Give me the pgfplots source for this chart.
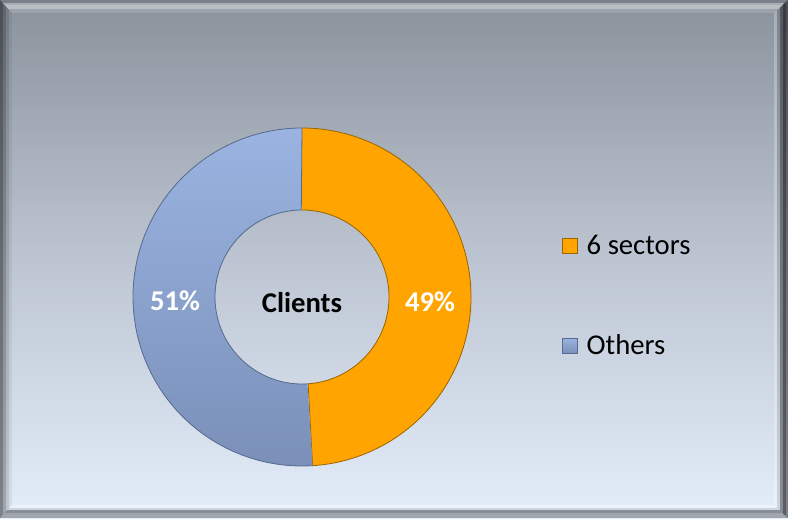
\documentclass[border=0pt]{standalone}
\usepackage{pgfplots}
\pgfplotsset{compat=1.18}
\usepackage{fontspec}
\setmainfont{Carlito}
\definecolor{bgtop}{HTML}{8A929C}
\definecolor{bgmid}{HTML}{BCC5D1}
\definecolor{bgbot}{HTML}{E4EEFA}
\definecolor{orangeF}{HTML}{FFA400}
\definecolor{orangeE}{HTML}{9A6400}
\definecolor{blueT}{HTML}{9AB3E0}
\definecolor{blueB}{HTML}{7A90B9}
\definecolor{blueE}{HTML}{56698E}
\pgfdeclareverticalshading{bgshade}{100bp}{color(0bp)=(bgbot); color(25bp)=(bgbot); color(50bp)=(bgmid); color(75bp)=(bgtop); color(100bp)=(bgtop)}
% data (percent)
\def\vSix{49}
\def\vOth{51}
\pgfmathsetmacro\aA{90}
\pgfmathsetmacro\aB{90-3.6*\vSix}
\pgfmathsetmacro\aC{\aB-3.6*\vOth}
\newcommand\ring[3]{%
\addplot[#3, domain=0:2, samples=801, variable=\t]
 ({302+ifthenelse(\t<=1,169,87)*cos(ifthenelse(\t<=1,(#1)+((#2)-(#1))*\t,(#2)+((#1)-(#2))*(\t-1)))},
  {221+ifthenelse(\t<=1,169,87)*sin(ifthenelse(\t<=1,(#1)+((#2)-(#1))*\t,(#2)+((#1)-(#2))*(\t-1)))});}
% px -> pt helper: 1px = 0.75pt
\newcommand\hs[4]{\fill[#1,opacity=#2] (0,#3*0.75pt) rectangle (591pt,#4*0.75pt);}% horizontal strip, y in px from bottom
\newcommand\vs[4]{\fill[#1,opacity=#2] (#3*0.75pt,0) rectangle (#4*0.75pt,388.5pt);}% vertical strip
\begin{document}
\begin{tikzpicture}
% background
\shade[shading=bgshade] (0,0) rectangle (591pt,388.5pt);
% bevelled frame
\begin{scope}
 \clip (0,0) -- (0,388.5pt) -- (9pt,378.75pt) -- (9pt,9.75pt) -- cycle;
 \vs{black}{0.45}{0}{3}\vs{black}{0.3}{3}{6}\vs{black}{0.16}{6}{9}\vs{black}{0.06}{9}{12}
\end{scope}
\begin{scope}
 \clip (0,388.5pt) -- (591pt,388.5pt) -- (580.5pt,378.75pt) -- (9pt,378.75pt) -- cycle;
 \hs{black}{0.12}{515}{518}\hs{white}{0.25}{513}{515}\hs{white}{0.4}{509}{513}\hs{white}{0.15}{505}{509}
\end{scope}
\begin{scope}
 \clip (591pt,0) -- (591pt,388.5pt) -- (580.5pt,378.75pt) -- (580.5pt,9.75pt) -- cycle;
 \vs{white}{0.25}{774}{777}\vs{black}{0.1}{777}{780}\vs{black}{0.4}{780}{783}\vs{black}{0.6}{783}{786}\vs{black}{0.45}{786}{788}
\end{scope}
\begin{scope}
 \clip (0,0) -- (591pt,0) -- (580.5pt,9.75pt) -- (9pt,9.75pt) -- cycle;
 \hs{white}{0.35}{10}{13}\hs{black}{0.1}{8}{10}\hs{black}{0.4}{5}{8}\hs{black}{0.3}{0}{5}
\end{scope}
\begin{axis}[
  at={(0,0)}, anchor=south west,
  width=591pt, height=388.5pt, scale only axis,
  xmin=0, xmax=788, ymin=0, ymax=518,
  hide axis, clip=false,
  legend image code/.code={\draw[#1] (0pt,-5.6pt) rectangle (11.25pt,5.6pt);},
  legend style={at={(axis cs:562,286)}, anchor=north west, draw=none, fill=none,
    font=\fontsize{21.5}{25}\selectfont, legend cell align=left, row sep=54.75pt,
    inner sep=0pt, nodes={inner sep=2pt},
    /tikz/every odd column/.append style={column sep=4.5pt}},
]
\ring{\aA}{\aB}{fill=orangeF, draw=orangeE, line width=0.6pt}
\addlegendentry{6 sectors}
\ring{\aB}{\aC}{top color=blueT, bottom color=blueB, draw=blueE, line width=0.6pt}
\addlegendentry{Others}
\node[text=white, font=\bfseries\fontsize{21.5}{26}\selectfont] at (axis cs:430,216) {49\%};
\node[text=white, font=\bfseries\fontsize{21.5}{26}\selectfont] at (axis cs:175,217) {51\%};
\node[text=black, font=\bfseries\fontsize{21.5}{26}\selectfont] at (axis cs:302,215) {Clients};
\end{axis}
\end{tikzpicture}
\end{document}
